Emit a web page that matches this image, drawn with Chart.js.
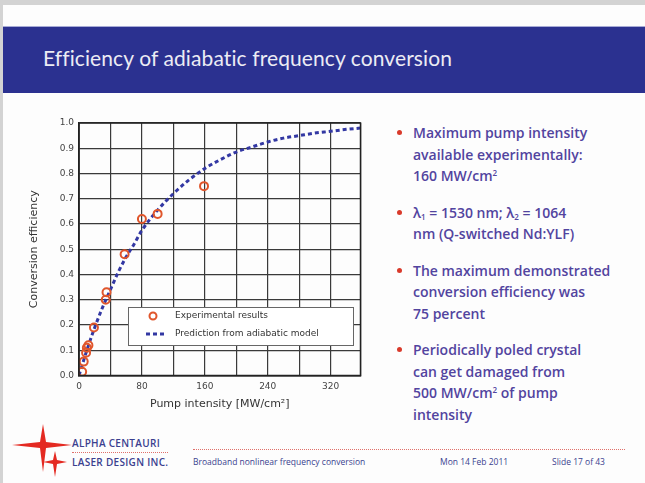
<!DOCTYPE html>
<html><head><meta charset="utf-8">
<script src="https://cdn.jsdelivr.net/npm/chart.js@4/dist/chart.umd.min.js"></script>
<style>
html,body{margin:0;padding:0;width:645px;height:483px;overflow:hidden;background:#d3d3d3;position:relative;}
#slide{position:absolute;left:3px;top:5px;width:642px;height:478px;background:#fdfdfd;}
#bar{position:absolute;left:3px;top:26px;width:642px;height:67px;background:#2b3190;border-top:1px solid #a7abd6;box-sizing:border-box;}
#title{position:absolute;left:43px;top:45px;font-family:Lato,"Open Sans",sans-serif;font-size:21px;color:#ececf4;white-space:nowrap;letter-spacing:0.1px;}
#chartwrap{position:absolute;left:20px;top:110px;width:350px;height:305px;}
ul#bul{position:absolute;left:397px;top:122px;margin:0;padding:0;list-style:none;font-family:"Open Sans",sans-serif;font-size:14px;font-weight:600;color:#52449f;line-height:21.5px;}
ul#bul li{position:relative;padding-left:16px;margin-bottom:15px;white-space:nowrap;}
ul#bul li:before{content:"";position:absolute;left:0;top:8px;width:5px;height:5px;border-radius:50%;background:#d93a2b;}
sup{font-size:8px;vertical-align:5px;line-height:0;}
sub{font-size:8px;vertical-align:-2px;line-height:0;}
.ft{position:absolute;font-family:"Open Sans",sans-serif;font-size:8.5px;color:#3b3f8f;white-space:nowrap;font-weight:600;}
.big{font-size:10px;letter-spacing:0.3px;}
.dot{position:absolute;height:0;border-top:1px dotted #e0706a;}
</style></head>
<body>
<div id="slide"></div>
<div id="bar"></div>
<div id="title">Efficiency of adiabatic frequency conversion</div>
<div id="chartwrap"><canvas id="c" width="350" height="305"></canvas></div>
<ul id="bul">
<li>Maximum pump intensity<br>available experimentally:<br>160 MW/cm<sup>2</sup></li>
<li>λ<sub>1</sub> = 1530 nm; λ<sub>2</sub> = 1064<br>nm (Q-switched Nd:YLF)</li>
<li>The maximum demonstrated<br>conversion efficiency was<br>75 percent</li>
<li>Periodically poled crystal<br>can get damaged from<br>500 MW/cm<sup>2</sup> of pump<br>intensity</li>
</ul>
<svg style="position:absolute;left:0;top:420px" width="75" height="63">
<polygon points="43,4 46,22 72,25 46,28 43,52 40,28 12,25 40,22" fill="#e42a22"/>
<polygon points="55,31 57,40 67,42 57,44 55,57 53,44 43,42 53,40" fill="#e42a22"/>
</svg>
<div class="ft big" style="left:72px;top:436px;">ALPHA CENTAURI</div>
<div class="dot" style="left:72px;top:452px;width:96px;"></div>
<div class="ft big" style="left:72px;top:455px;">LASER DESIGN INC.</div>
<div class="dot" style="left:193px;top:449px;width:432px;"></div>
<div class="ft" style="left:193px;top:456px;font-weight:400;">Broadband nonlinear frequency conversion</div>
<div class="ft" style="left:440px;top:456px;font-weight:400;">Mon 14 Feb 2011</div>
<div class="ft" style="left:552px;top:456px;font-weight:400;">Slide 17 of 43</div>
<script>
const expX = [4, 6, 9, 10, 12, 19, 34, 35, 58, 80, 100, 159];
const expY = [0.015, 0.055, 0.09, 0.11, 0.12, 0.19, 0.30, 0.33, 0.48, 0.62, 0.64, 0.75];
const modelX = [0, 10, 20, 30, 40, 50, 60, 70, 80, 100, 120, 140, 160, 180, 200, 220, 240, 260, 280, 300, 320, 340, 358];
const modelY = [0.0, 0.10, 0.19, 0.27, 0.34, 0.41, 0.47, 0.52, 0.575, 0.655, 0.72, 0.775, 0.82, 0.855, 0.885, 0.905, 0.925, 0.94, 0.95, 0.96, 0.967, 0.975, 0.98];
const seriesLabels = ["Experimental results", "Prediction from adiabatic model"];
const xTickLabels = [0, 80, 160, 240, 320];
const axisTitles = {x: "Pump intensity [MW/cm²]", y: "Conversion efficiency"};

const legendPlugin = {
  id: 'insideLegend',
  afterDraw(chart) {
    const ctx = chart.ctx, a = chart.chartArea;
    const x0 = Math.round(a.right - 233), y0 = Math.round(a.bottom - 69), w = 225, h = 38;
    ctx.save();
    ctx.fillStyle = '#ffffff';
    ctx.fillRect(x0, y0, w, h);
    ctx.strokeStyle = '#666';
    ctx.lineWidth = 1;
    ctx.strokeRect(x0 + 0.5, y0 + 0.5, w, h);
    const ds = chart.data.datasets;
    ctx.beginPath();
    ctx.arc(x0 + 25, y0 + 9, 3.5, 0, Math.PI * 2);
    ctx.strokeStyle = ds[0].borderColor; ctx.lineWidth = 2; ctx.stroke();
    ctx.beginPath();
    ctx.setLineDash([4, 3]);
    ctx.moveTo(x0 + 18, y0 + 27); ctx.lineTo(x0 + 39, y0 + 27);
    ctx.strokeStyle = ds[1].borderColor; ctx.lineWidth = 3; ctx.stroke();
    ctx.setLineDash([]);
    ctx.fillStyle = '#333';
    ctx.font = '9px "DejaVu Sans", sans-serif';
    ctx.textBaseline = 'middle';
    ctx.fillText(ds[0].label, x0 + 47, y0 + 9);
    ctx.fillText(ds[1].label, x0 + 47, y0 + 27);
    ctx.restore();
  }
};

new Chart(document.getElementById('c'), {
  type: 'scatter',
  data: {
    datasets: [
      {
        label: seriesLabels[0],
        data: expX.map((x, i) => ({x: x, y: expY[i]})),
        showLine: false,
        pointStyle: 'circle',
        pointRadius: 4,
        pointBorderWidth: 2,
        borderColor: '#e0562c',
        backgroundColor: 'rgba(0,0,0,0)',
        order: 0
      },
      {
        label: seriesLabels[1],
        data: modelX.map((x, i) => ({x: x, y: modelY[i]})),
        showLine: true,
        pointRadius: 0,
        borderColor: '#3338a3',
        borderWidth: 3,
        borderDash: [4, 3],
        cubicInterpolationMode: 'monotone',
        fill: false,
        order: 1
      }
    ]
  },
  options: {
    responsive: false,
    animation: false,
    layout: {padding: {left: 0, top: 13, right: 9.5, bottom: 0}},
    plugins: {legend: {display: false}, tooltip: {enabled: false}},
    scales: {
      x: {
        type: 'linear', min: 0, max: 358,
        afterFit(s) { s.height = 39.5; },
        border: {display: true, color: '#222', width: 1.5},
        grid: {color: '#3a3a3a', lineWidth: 1.2, drawTicks: false},
        ticks: {
          stepSize: 40, padding: 6, maxRotation: 0, autoSkip: false,
          color: '#444', font: {family: '"DejaVu Sans", sans-serif', size: 9},
          callback: (v) => xTickLabels.includes(v) ? String(v) : ''
        },
        title: {display: true, text: axisTitles.x, color: '#333', font: {family: '"DejaVu Sans", sans-serif', size: 11}, padding: {top: 0, bottom: 4}}
      },
      y: {
        type: 'linear', min: 0, max: 1,
        afterFit(s) { s.width = 59; },
        border: {display: true, color: '#222', width: 1.5},
        grid: {color: '#3a3a3a', lineWidth: 1.2, drawTicks: false},
        ticks: {
          stepSize: 0.1, padding: 5,
          color: '#444', font: {family: '"DejaVu Sans", sans-serif', size: 9},
          callback: (v) => v.toFixed(1)
        },
        title: {display: true, text: axisTitles.y, color: '#333', font: {family: '"DejaVu Sans", sans-serif', size: 11}, padding: {top: 8, bottom: 0}}
      }
    }
  },
  plugins: [legendPlugin, {
    id: 'frame',
    afterDatasetsDraw(chart) {
      const ctx = chart.ctx, a = chart.chartArea;
      ctx.save(); ctx.strokeStyle = '#222'; ctx.lineWidth = 1.5;
      ctx.strokeRect(a.left, a.top, a.right - a.left, a.bottom - a.top);
      ctx.restore();
    }
  }]
});
</script>
</body></html>
